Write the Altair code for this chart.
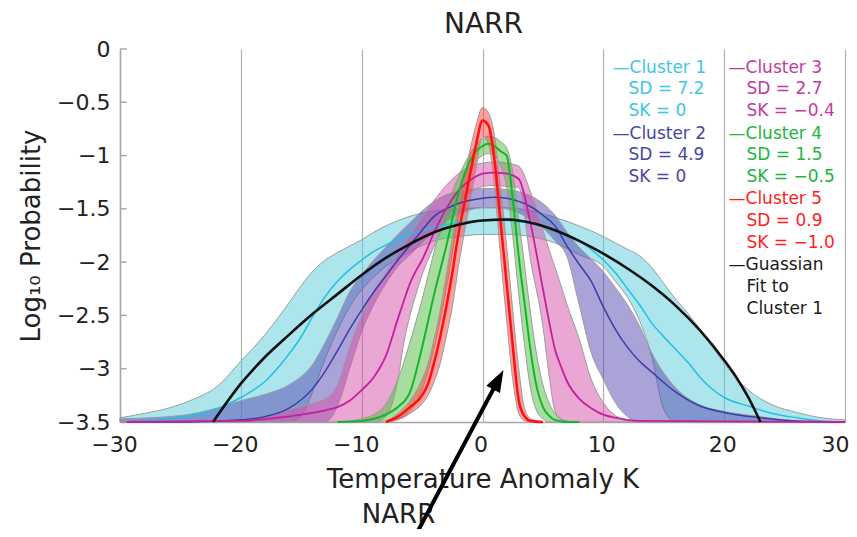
import altair as alt
import pandas as pd

x_ticks = [-30, -20, -10, 0, 10, 20, 30]
y_ticks = [0, -0.5, -1, -1.5, -2, -2.5, -3, -3.5]

# Cluster 1 (SD = 7.2)
c1_x = [-30, -28, -26, -24, -22, -20, -18, -16, -15, -14, -13, -12, -11, -10, -9, -8, -6, -4, -2, 0,
        2, 4, 6, 8, 10, 11, 12, 13, 14, 15, 16, 17, 18, 19, 20, 22, 24, 26, 28, 30]
c1_mid = [-3.5, -3.49, -3.47, -3.44, -3.38, -3.27, -3.12, -2.86, -2.7, -2.5, -2.32, -2.18, -2.07, -1.98, -1.9, -1.84, -1.74, -1.67, -1.63, -1.61,
          -1.61, -1.64, -1.7, -1.8, -1.98, -2.1, -2.25, -2.4, -2.57, -2.7, -2.82, -2.94, -3.08, -3.19, -3.27, -3.35, -3.42, -3.46, -3.49, -3.5]
c1_hi = [-3.46, -3.42, -3.37, -3.29, -3.17, -2.93, -2.68, -2.38, -2.22, -2.08, -1.98, -1.91, -1.85, -1.79, -1.72, -1.66, -1.57, -1.52, -1.5, -1.49,
         -1.49, -1.52, -1.58, -1.66, -1.76, -1.82, -1.88, -1.94, -2.05, -2.2, -2.35, -2.48, -2.63, -2.79, -2.95, -3.2, -3.34, -3.41, -3.46, -3.48]
c1_lo = [-3.5, -3.5, -3.5, -3.5, -3.5, -3.5, -3.5, -3.5, -3.44, -3.2, -2.9, -2.64, -2.42, -2.26, -2.14, -2.04, -1.9, -1.8, -1.76, -1.74,
         -1.74, -1.76, -1.82, -1.93, -2.04, -2.18, -2.33, -2.55, -2.88, -3.38, -3.5, -3.5, -3.5, -3.5, -3.5, -3.5, -3.5, -3.5, -3.5, -3.5]

# Cluster 2 (SD = 4.9)
c2_x = [-30, -25, -22, -20, -18, -16, -14, -13, -12, -11, -10, -9, -8, -7, -6, -5, -4, -3, -2, -1,
        0, 1, 2, 3, 4, 5, 6, 7, 8, 9, 10, 11, 12, 13, 14, 16, 18, 20, 23, 26, 30]
c2_mid = [-3.5, -3.5, -3.49, -3.48, -3.45, -3.37, -3.18, -3.02, -2.83, -2.63, -2.45, -2.28, -2.13, -1.98, -1.84, -1.7, -1.57, -1.5, -1.45, -1.42,
          -1.4, -1.39, -1.4, -1.43, -1.48, -1.56, -1.66, -1.85, -2.02, -2.18, -2.42, -2.63, -2.8, -2.93, -3.03, -3.22, -3.35, -3.41, -3.46, -3.49, -3.5]
c2_hi = [-3.47, -3.44, -3.37, -3.3, -3.24, -3.15, -2.95, -2.75, -2.52, -2.28, -2.12, -1.98, -1.86, -1.74, -1.63, -1.52, -1.43, -1.37, -1.34, -1.32,
         -1.31, -1.31, -1.32, -1.34, -1.38, -1.45, -1.56, -1.72, -1.86, -1.97, -2.09, -2.24, -2.4, -2.6, -2.85, -3.18, -3.34, -3.4, -3.45, -3.49, -3.5]
c2_lo = [-3.5, -3.5, -3.5, -3.5, -3.5, -3.5, -3.5, -3.5, -3.35, -3.0, -2.65, -2.4, -2.2, -2.04, -1.93, -1.82, -1.72, -1.62, -1.55, -1.51,
         -1.49, -1.49, -1.5, -1.54, -1.6, -1.68, -1.8, -1.95, -2.4, -2.85, -3.1, -3.32, -3.45, -3.5, -3.5, -3.5, -3.5, -3.5, -3.5, -3.5, -3.5]

# Cluster 3 (SD = 2.7)
c3_x = [-30, -20, -17, -15, -13, -12, -11, -10, -9, -8, -7, -6.5, -6, -5.5, -5, -4, -3, -2, -1,
        0, 1, 2, 3, 4, 5, 5.5, 6, 6.5, 7, 8, 9, 10, 11, 12, 13, 30]
c3_mid = [-3.5, -3.49, -3.46, -3.43, -3.39, -3.36, -3.3, -3.2, -3.08, -2.88, -2.53, -2.36, -2.2, -2.08, -1.98, -1.72, -1.5, -1.33, -1.23,
          -1.17, -1.16, -1.17, -1.22, -1.65, -2.25, -2.55, -2.82, -2.98, -3.12, -3.28, -3.37, -3.43, -3.46, -3.48, -3.49, -3.5]
c3_hi = [-3.5, -3.49, -3.42, -3.35, -3.28, -3.15, -2.8, -2.5, -2.28, -2.1, -1.92, -1.84, -1.75, -1.66, -1.58, -1.42, -1.28, -1.17, -1.1,
         -1.07, -1.06, -1.07, -1.1, -1.35, -1.7, -1.88, -2.05, -2.22, -2.4, -2.72, -3.1, -3.32, -3.44, -3.49, -3.5, -3.5]
c3_lo = [-3.5, -3.5, -3.5, -3.5, -3.5, -3.5, -3.5, -3.5, -3.5, -3.45, -3.1, -2.75, -2.5, -2.3, -2.12, -1.85, -1.62, -1.45, -1.35,
         -1.29, -1.28, -1.29, -1.3, -2.0, -2.6, -3.05, -3.4, -3.48, -3.5, -3.5, -3.5, -3.5, -3.5, -3.5, -3.5, -3.5]

# Cluster 4 (SD = 1.5)
c4_x = [-12, -10, -9, -8, -7, -6, -5, -4, -3, -2, -1, 0, 0.5, 1, 1.5, 2, 2.5, 3, 3.5, 4, 4.5, 5, 5.5, 6, 7, 8]
c4_mid = [-3.5, -3.49, -3.47, -3.43, -3.36, -3.22, -2.8, -2.3, -1.85, -1.36, -1.04, -0.91, -0.89,
          -0.91, -0.96, -1.0, -1.4, -1.95, -2.4, -2.85, -3.18, -3.36, -3.44, -3.48, -3.5, -3.5]
c4_hi = [-3.5, -3.47, -3.43, -3.33, -3.1, -2.75, -2.35, -1.9, -1.5, -1.2, -0.98, -0.84, -0.82,
         -0.83, -0.87, -0.93, -1.15, -1.6, -2.05, -2.5, -2.88, -3.15, -3.32, -3.42, -3.49, -3.5]
c4_lo = [-3.5, -3.5, -3.5, -3.49, -3.47, -3.4, -3.2, -2.8, -2.25, -1.6, -1.15, -1.0, -0.98,
         -1.0, -1.1, -1.3, -1.75, -2.3, -2.8, -3.2, -3.4, -3.47, -3.5, -3.5, -3.5, -3.5]

# Cluster 5 (SD = 0.9)
c5_x = [-8, -7, -6, -5, -4.5, -4, -3.5, -3, -2.5, -2, -1.5, -1, -0.5, 0, 0.5, 1, 1.5, 2, 2.5, 3, 3.5, 4, 5]
c5_mid = [-3.5, -3.45, -3.36, -3.25, -3.14, -2.94, -2.7, -2.42, -2.1, -1.74, -1.45, -1.16, -0.88, -0.67,
          -0.72, -1.05, -1.63, -2.2, -2.78, -3.3, -3.45, -3.49, -3.5]
c5_hi = [-3.5, -3.42, -3.3, -3.1, -2.95, -2.72, -2.45, -2.12, -1.78, -1.48, -1.2, -0.93, -0.7, -0.55,
         -0.6, -0.82, -1.3, -1.85, -2.45, -3.0, -3.38, -3.47, -3.5]
c5_lo = [-3.5, -3.48, -3.42, -3.33, -3.25, -3.12, -2.95, -2.7, -2.42, -2.05, -1.72, -1.42, -1.1, -0.82,
         -0.9, -1.3, -1.95, -2.55, -3.1, -3.42, -3.49, -3.5, -3.5]

# Gaussian fit to cluster 1
g_x = [-22.3, -21, -20, -19, -18, -16, -14, -12, -10, -8, -6, -4, -2, 0, 2, 4, 6, 8, 10, 12, 14, 16, 18, 20, 21, 22, 23]
g_y = [-3.5, -3.29, -3.14, -3.01, -2.89, -2.68, -2.48, -2.3, -2.12, -1.96, -1.83, -1.72, -1.65, -1.61,
       -1.6, -1.63, -1.7, -1.8, -1.92, -2.06, -2.22, -2.41, -2.64, -2.92, -3.08, -3.27, -3.5]

# legend text, two columns
leg1_text = ["\u2014Cluster 1", "SD = 7.2", "SK = 0", "\u2014Cluster 2", "SD = 4.9", "SK = 0"]
leg1_color = ["#3cc6e8"] * 3 + ["#4646a6"] * 3
leg2_text = ["\u2014Cluster 3", "SD = 2.7", "SK = \u22120.4", "\u2014Cluster 4", "SD = 1.5", "SK = \u22120.5",
             "\u2014Cluster 5", "SD = 0.9", "SK = \u22121.0", "\u2014Guassian", "Fit to", "Cluster 1"]
leg2_color = ["#c23a9e"] * 3 + ["#22b540"] * 3 + ["#ff1e1e"] * 3 + ["#1a1a1a"] * 3
leg_rows = [-0.174, -0.380, -0.586, -0.793, -0.999, -1.205, -1.412, -1.618, -1.825, -2.031, -2.237, -2.444]
leg_cols = [10.76, 12.08, 20.36, 21.85]  # dash column, text column

# title, arrow annotation (tail, head) and its label, in data units
title_pos = (0.08, 0.225)
arrow_tail = (-5.30, -4.513)
arrow_head = (1.31, -3.103)
arrow_label = (-6.95, -4.373)

x_scale = alt.Scale(domain=[-30, 30], nice=False, zero=False)
y_scale = alt.Scale(domain=[-3.5, 0], nice=False, zero=False)

x_axis = alt.Axis(values=x_ticks, grid=True, gridColor="#b0b0b0", gridWidth=1.2, ticks=False,
                  domainColor="#a8a8a8", domainWidth=1.5, labelFontSize=22, labelColor="#222",
                  labelPadding=12, labelFlush=False, format="d",
                  labelOffset={"condition": [{"test": "datum.value < 0", "value": -6},
                                             {"test": "datum.value >= 30", "value": -10}],
                               "value": -2},
                  title="Temperature Anomaly K", titleFontSize=26, titleFontWeight="normal",
                  titleColor="#222", titlePadding=11)
y_axis = alt.Axis(values=y_ticks, grid=False, ticks=False, domainColor="#a8a8a8", domainWidth=1.5,
                  labelFontSize=22, labelColor="#222", labelPadding=10, labelFlush=False, format="~g",
                  title="Log\u2081\u2080 Probability", titleFontSize=26, titleFontWeight="normal",
                  titleColor="#222", titlePadding=12)


def X(field):
    return alt.X(field, type="quantitative", scale=x_scale, axis=x_axis)


def Y(field):
    return alt.Y(field, type="quantitative", scale=y_scale, axis=y_axis)


clusters = [
    (c1_x, c1_lo, c1_mid, c1_hi, "#5ccbdb", "#22c0e0", 1.5),
    (c2_x, c2_lo, c2_mid, c2_hi, "#5547b0", "#3c3ca8", 1.5),
    (c3_x, c3_lo, c3_mid, c3_hi, "#d84fa8", "#c4209c", 1.8),
    (c4_x, c4_lo, c4_mid, c4_hi, "#52bb3f", "#12b52c", 2.0),
    (c5_x, c5_lo, c5_mid, c5_hi, "#ff4040", "#ff1010", 2.5),
]

bands = []
lines = []
for xs, lo, mid, hi, fill, stroke, sw in clusters:
    df = pd.DataFrame({"x": xs, "lo": lo, "mid": mid, "hi": hi})
    bands.append(alt.Chart(df).mark_area(
        interpolate="monotone", fill=fill, fillOpacity=0.5, stroke="#9c9c9c", strokeWidth=1
    ).encode(x=X("x"), y=Y("hi"), y2="lo"))
    lines.append(alt.Chart(df).mark_line(
        interpolate="monotone", color=stroke, strokeWidth=sw
    ).encode(x=X("x"), y=Y("mid")))

gauss = alt.Chart(pd.DataFrame({"x": g_x, "y": g_y})).mark_line(
    interpolate="monotone", color="#111", strokeWidth=2.6
).encode(x=X("x"), y=Y("y"))

tick_df = pd.DataFrame({"y": y_ticks, "x0": [-30] * len(y_ticks), "x1": [-29.45] * len(y_ticks)})
ticks = alt.Chart(tick_df).mark_rule(color="#a8a8a8", strokeWidth=1.5).encode(
    x=X("x0"), x2="x1", y=Y("y"))

leg_df = pd.DataFrame({
    "label": leg1_text + leg2_text,
    "color": leg1_color + leg2_color,
    "ty": leg_rows[:6] + leg_rows,
    "tx": [leg_cols[0] if t.startswith("\u2014") else leg_cols[1] for t in leg1_text]
          + [leg_cols[2] if t.startswith("\u2014") else leg_cols[3] for t in leg2_text],
})
legend = alt.Chart(leg_df).mark_text(align="left", baseline="middle", fontSize=17).encode(
    x=X("tx"), y=Y("ty"), text="label:N", color=alt.Color("color:N", scale=None))

arrow_df = pd.DataFrame({"x": [arrow_tail[0]], "y": [arrow_tail[1]],
                         "x2": [arrow_head[0]], "y2": [arrow_head[1]]})
arrow_line = alt.Chart(arrow_df).mark_rule(color="#000", strokeWidth=4).encode(
    x=X("x"), y=Y("y"), x2="x2", y2="y2")
arrow_tip = alt.Chart(arrow_df).mark_point(
    shape="M0,-1L0.7,1L-0.7,1Z", filled=True, color="#000", opacity=1, size=484, angle=28
).encode(x=X("x2"), y=Y("y2"))

text_df = pd.DataFrame({"x": [arrow_label[0], title_pos[0]], "y": [arrow_label[1], title_pos[1]],
                        "t": ["NARR", "NARR"], "s": [26, 28]})
texts = alt.Chart(text_df).mark_text(color="#222", baseline="middle").encode(
    x=X("x"), y=Y("y"), text="t:N", size=alt.Size("s:Q", scale=None, legend=None))

chart = alt.layer(
    *bands, *lines, gauss, ticks, legend, texts, arrow_line, arrow_tip
).properties(
    width=725,
    height=373,
    autosize=alt.AutoSizeParams(type="none"),
    padding={"left": 112, "top": 41, "right": 4, "bottom": 107},
).configure(font="DejaVu Sans").configure_view(stroke=None)

chart.save("out.html", embed_options={"renderer": "svg", "actions": False})
